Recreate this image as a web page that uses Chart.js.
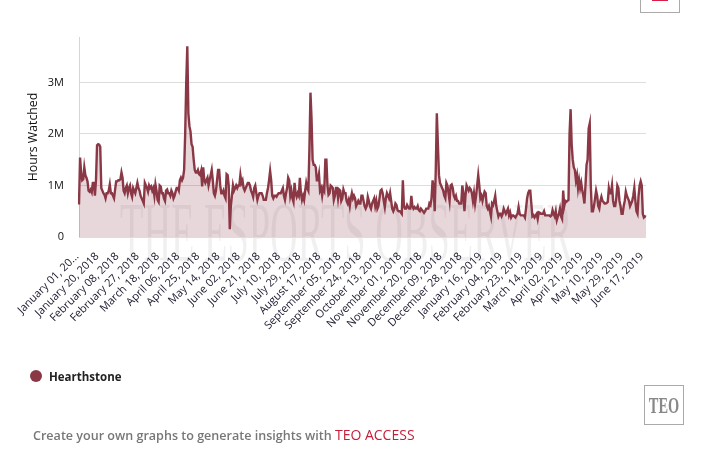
<!DOCTYPE html>
<html lang="en">
<head>
  <meta charset="UTF-8" />
  <title>Hearthstone Hours Watched</title>
  <script src="https://cdn.jsdelivr.net/npm/chart.js"></script>
  <style>
    body { margin: 0; background: #fff; font-family: "Open Sans", sans-serif; }
    #wrap { position: relative; width: 719px; height: 453px; overflow: hidden; }
    #chart { position: absolute; left: 0; top: 0; }
    .watermark {
      position: absolute; left: 120px; top: 191px; width: 1350px;
      font-family: "Liberation Serif", serif; font-size: 84px; line-height: 84px;
      color: rgba(0,0,0,0.06); white-space: nowrap;
      transform: scaleX(0.456); transform-origin: left top;
    }
    .legend-dot { position: absolute; left: 30px; top: 370px; width: 12px; height: 12px; border-radius: 50%; background: #8a3845; }
    .legend-text { position: absolute; left: 49px; top: 369px; font-size: 11.5px; line-height: 15px; font-weight: 700; color: #222; }
    .footer { position: absolute; left: 33px; top: 426px; font-size: 12.55px; line-height: 17px; font-weight: 600; color: #777; white-space: nowrap; }
    .footer span { color: #c41e3a; font-weight: 400; font-size: 14px; }
    .teo {
      position: absolute; left: 644px; top: 385px; width: 38px; height: 38px; border: 1px solid #aaa;
      font-family: "Liberation Serif", serif; font-size: 24px; line-height: 38px; text-align: center; color: #888; font-weight: 700;
    }
    .teo b { display: block; width: 60px; margin-left: -11px; transform: scaleX(0.6); }
    .top-btn { position: absolute; left: 640px; top: -20px; width: 38px; height: 31px; border: 1px solid #aaa; }
    .top-btn i { position: absolute; left: 11px; top: 18px; width: 16px; height: 2px; background: #d81e45; display: block; }
  </style>
</head>
<body>
<div id="wrap">
  <div class="top-btn"><i></i></div>
  <div class="watermark">THE ESPORTS OBSERVER</div>
  <canvas id="chart" width="719" height="453"></canvas>
  <div class="legend-dot"></div>
  <div class="legend-text">Hearthstone</div>
  <div class="footer">Create your own graphs to generate insights with <span>TEO ACCESS</span></div>
  <div class="teo"><b>TEO</b></div>
</div>
<script>
  const seriesName = 'Hearthstone';
  const axisTitle = 'Hours Watched';
  const yTicks = [0, 1000000, 2000000, 3000000];

  // one label every 19 days
  const tickLabels = [
    'January 01, 20...', 'January 20, 2018', 'February 08, 2018', 'February 27, 2018', 'March 18, 2018',
    'April 06, 2018', 'April 25, 2018', 'May 14, 2018', 'June 02, 2018', 'June 21, 2018',
    'July 10, 2018', 'July 29, 2018', 'August 17, 2018', 'September 05, 2018', 'September 24, 2018',
    'October 13, 2018', 'November 01, 2018', 'November 20, 2018', 'December 09, 2018', 'December 28, 2018',
    'January 16, 2019', 'February 04, 2019', 'February 23, 2019', 'March 14, 2019', 'April 02, 2019',
    'April 21, 2019', 'May 10, 2019', 'May 29, 2019', 'June 17, 2019'
  ];

  // daily hours watched, in thousands
  const hoursWatched = [
    630,1540,1250,1100,1120,1350,1200,1150,1080,900,
    880,920,870,1050,1050,800,1100,1780,1800,1790,
    1750,950,900,850,820,750,850,850,900,1020,
    850,850,800,750,920,1080,1080,1100,1100,1120,
    1250,1150,900,850,950,1000,850,950,1000,850,
    780,950,900,850,950,1050,950,900,800,750,
    700,650,1050,1000,950,880,1000,950,980,900,
    950,800,1020,900,720,680,1000,980,850,850,
    750,700,900,920,850,850,800,900,850,750,
    800,880,950,950,900,1100,1150,1100,1150,1300,
    2000,3000,3700,2400,2150,2050,1800,1750,1500,1300,
    1250,1250,1300,1220,1200,1280,980,1350,1100,1050,
    1100,1150,1000,1100,1200,1300,1100,850,800,900,
    1100,1300,1300,1000,850,850,900,800,750,1220,
    1200,1000,150,600,800,1000,900,950,1000,950,
    1000,1000,1200,1050,1100,950,900,950,1000,1050,
    1050,1000,900,850,780,950,1000,850,720,800,
    850,850,850,800,720,720,720,850,950,1100,
    1280,1100,800,750,800,800,780,820,850,850,
    850,900,950,800,720,850,950,1150,1100,800,
    900,750,680,1050,850,780,850,800,1150,850,
    720,800,720,900,1050,950,900,1700,2800,2300,
    1500,1400,1400,1350,1100,1100,1220,900,950,800,
    950,900,1500,1500,1000,820,850,1000,980,950,
    720,800,950,950,750,920,900,700,750,920,
    850,850,700,650,720,600,750,850,750,800,
    750,600,650,700,650,650,800,800,700,600,
    550,600,780,700,600,550,650,700,750,600,
    700,550,600,750,900,920,850,700,580,750,
    850,800,750,850,700,550,500,550,650,620,
    520,500,500,480,450,1100,600,550,550,620,
    580,550,550,800,600,550,580,550,550,600,
    520,500,550,520,500,470,500,550,550,550,
    650,620,750,1100,950,500,1300,2400,1800,1200,
    1050,1000,950,900,800,750,1050,1000,850,700,
    1000,1020,950,800,750,800,700,700,650,650,
    650,1000,850,500,800,1000,950,900,950,920,
    850,700,850,650,800,1000,1200,1000,750,800,
    700,800,880,850,600,550,600,500,400,650,
    620,700,800,600,500,400,450,450,400,450,
    550,500,450,500,550,420,480,380,420,420,
    400,380,420,450,580,450,420,420,420,420,
    380,550,750,850,900,900,650,400,420,380,
    420,450,350,480,470,450,450,450,500,420,
    420,420,420,420,400,420,520,450,400,500,
    330,400,450,550,400,350,900,600,700,680,
    700,720,2000,2480,1800,1500,1350,1300,1100,1200,
    950,1100,950,1050,900,800,650,1000,1400,1500,
    2100,2200,1000,500,500,600,750,900,800,600,
    550,700,780,700,680,650,650,660,680,950,
    850,850,1000,700,600,600,750,1000,950,700,
    600,450,450,600,700,880,800,750,700,600,
    650,700,800,950,700,500,450,800,1000,1080,
    1000,450,380,400,390
  ];

  const tickEvery = 19;
  const labels = hoursWatched.map((v, i) => i % tickEvery === 0 ? tickLabels[i / tickEvery] : '');

  new Chart(document.getElementById('chart').getContext('2d'), {
    type: 'line',
    data: {
      labels: labels,
      datasets: [{
        label: seriesName,
        data: hoursWatched.map(v => v * 1000),
        borderColor: '#8a3845',
        borderWidth: 2.4,
        backgroundColor: 'rgba(138,56,69,0.2)',
        fill: 'origin',
        pointRadius: 0,
        tension: 0
      }]
    },
    options: {
      responsive: false,
      animation: false,
      layout: { padding: { top: 37, right: 73, bottom: 0, left: 26 } },
      plugins: { legend: { display: false }, tooltip: { enabled: false } },
      scales: {
        x: {
          grid: { display: false },
          border: { display: false },
          afterBuildTicks: axis => { axis.ticks = axis.ticks.filter(t => t.value % tickEvery === 0); },
          afterFit: axis => { axis.height = 216; },
          ticks: {
            autoSkip: false, minRotation: 45, maxRotation: 45, padding: 5, labelOffset: -2,
            color: '#1a1a2e', font: { family: '"Open Sans", sans-serif', size: 11 }
          }
        },
        y: {
          min: 0,
          max: 3880000,
          afterBuildTicks: axis => { axis.ticks = yTicks.map(v => ({ value: v })); },
          afterFit: axis => { axis.width = 53; },
          title: { display: true, text: axisTitle, color: '#111', padding: 0, font: { family: '"Open Sans", sans-serif', size: 12.3 } },
          grid: { color: '#dddddd', lineWidth: 1, drawTicks: false },
          border: { display: true, color: '#d5d5d5', width: 1 },
          ticks: {
            padding: 15,
            color: '#111', font: { family: '"Open Sans", sans-serif', size: 11 },
            callback: v => v === 0 ? '0' : (v / 1000000) + 'M'
          }
        }
      }
    }
  });
</script>
</body>
</html>
